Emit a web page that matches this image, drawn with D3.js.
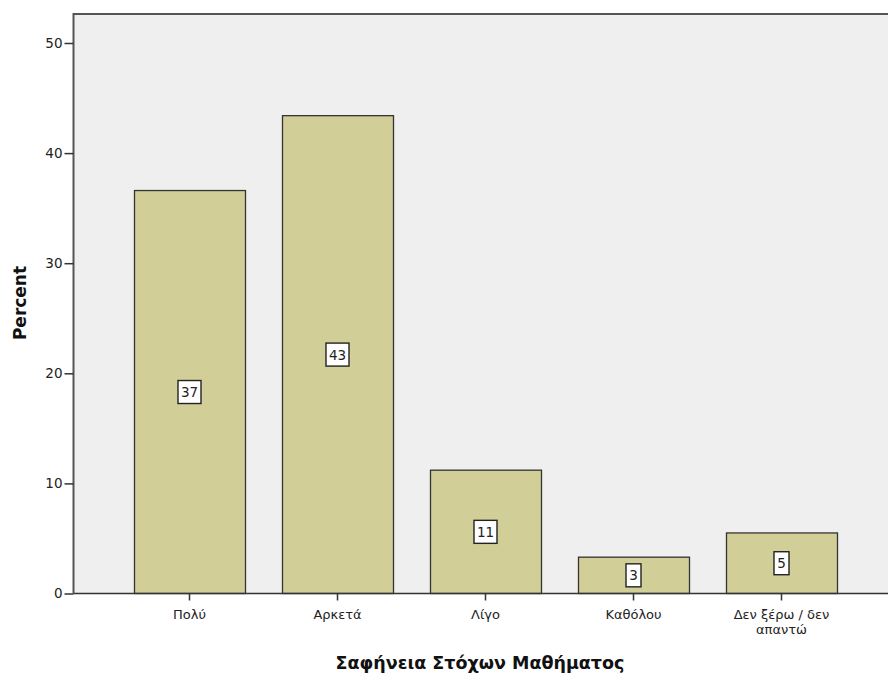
<!DOCTYPE html>
<html><head><meta charset="utf-8">
<script src="https://cdn.jsdelivr.net/npm/d3@7"></script>
<style>body{margin:0;background:#fff}svg{display:block}</style>
</head><body>
<script>
const categories = ["Πολύ", "Αρκετά", "Λίγο", "Καθόλου", "Δεν ξέρω / δεν απαντώ"];
const percents = [36.6, 43.4, 11.2, 3.3, 5.5];
const labels = ["37", "43", "11", "3", "5"];
const yTicks = [0, 10, 20, 30, 40, 50];
const xTitle = "Σαφήνεια Στόχων Μαθήματος";
const yTitle = "Percent";

const W = 888, H = 677;
const L = 73.5, T = 14, R = 898, B = 593.5;
const svg = d3.select("body").append("svg").attr("width", W).attr("height", H);
const font = "'DejaVu Sans', sans-serif";

const y = d3.scaleLinear().domain([0, 50]).range([B, 43]);
const x = d3.scaleBand().domain(categories).range([115.5, 855.5]).paddingInner(0.25).paddingOuter(0.125);

svg.append("rect").attr("x", L).attr("y", T).attr("width", R - L).attr("height", B - T).attr("fill", "#EFEFEF");

svg.append("g").selectAll("rect").data(categories).join("rect")
  .attr("x", d => Math.round(x(d)) + 0.5)
  .attr("y", (d, i) => y(percents[i]))
  .attr("width", Math.round(x.bandwidth()))
  .attr("height", (d, i) => B - y(percents[i]))
  .attr("fill", "#D2CE98").attr("stroke", "#333").attr("stroke-width", 1.3);

// frame
svg.append("path").attr("d", `M${L},${B}V${T}H${W}`).attr("fill", "none").attr("stroke", "#555").attr("stroke-width", 2);
svg.append("line").attr("x1", L).attr("x2", W).attr("y1", B).attr("y2", B).attr("stroke", "#333").attr("stroke-width", 1.5);

// y axis
const yAxis = svg.append("g").attr("transform", `translate(${L},0)`)
  .call(d3.axisLeft(y).tickValues(yTicks).tickSize(9).tickSizeOuter(0).tickPadding(2));
yAxis.select(".domain").remove();
yAxis.selectAll("line").attr("stroke", "#333").attr("stroke-width", 1.5);
yAxis.selectAll("text").attr("font-family", font).attr("font-size", 13.5).attr("fill", "#222");

// x axis
const xAxis = svg.append("g").attr("transform", `translate(0,${B})`)
  .call(d3.axisBottom(x).tickSize(7).tickSizeOuter(0).tickPadding(3).tickFormat(""));
xAxis.select(".domain").remove();
xAxis.selectAll("line").attr("stroke", "#333").attr("stroke-width", 1.5);
xAxis.selectAll(".tick").each(function(d) {
  const g = d3.select(this);
  const t = g.append("text").attr("font-family", font).attr("font-size", 13).attr("fill", "#222")
    .attr("text-anchor", "middle").attr("y", 25);
  const lines = d === "Δεν ξέρω / δεν απαντώ" ? ["Δεν ξέρω / δεν", "απαντώ"] : [d];
  lines.forEach((s, i) => t.append("tspan").attr("x", 0).attr("dy", i === 0 ? 0 : 15).text(s));
});

// value labels
const lab = svg.append("g").selectAll("g").data(categories).join("g")
  .attr("transform", (d, i) => `translate(${x(d) + x.bandwidth() / 2},${(y(percents[i]) + B) / 2})`);
lab.each(function(d, i) {
  const g = d3.select(this);
  const w = labels[i].length > 1 ? 23 : 15;
  g.append("rect").attr("x", -w / 2).attr("y", -11.5).attr("width", w).attr("height", 23)
    .attr("fill", "#fff").attr("stroke", "#222").attr("stroke-width", 1.4);
  g.append("text").attr("text-anchor", "middle").attr("y", 5).attr("font-family", font)
    .attr("font-size", 13.5).attr("fill", "#222").text(labels[i]);
});

// titles
svg.append("text").attr("x", 480).attr("y", 669).attr("text-anchor", "middle")
  .attr("font-family", font).attr("font-weight", "bold").attr("font-size", 17.5).attr("fill", "#111").text(xTitle);
svg.append("text").attr("transform", "translate(26,303) rotate(-90)").attr("text-anchor", "middle")
  .attr("font-family", font).attr("font-weight", "bold").attr("font-size", 17).attr("fill", "#111").text(yTitle);
</script>
</body></html>
